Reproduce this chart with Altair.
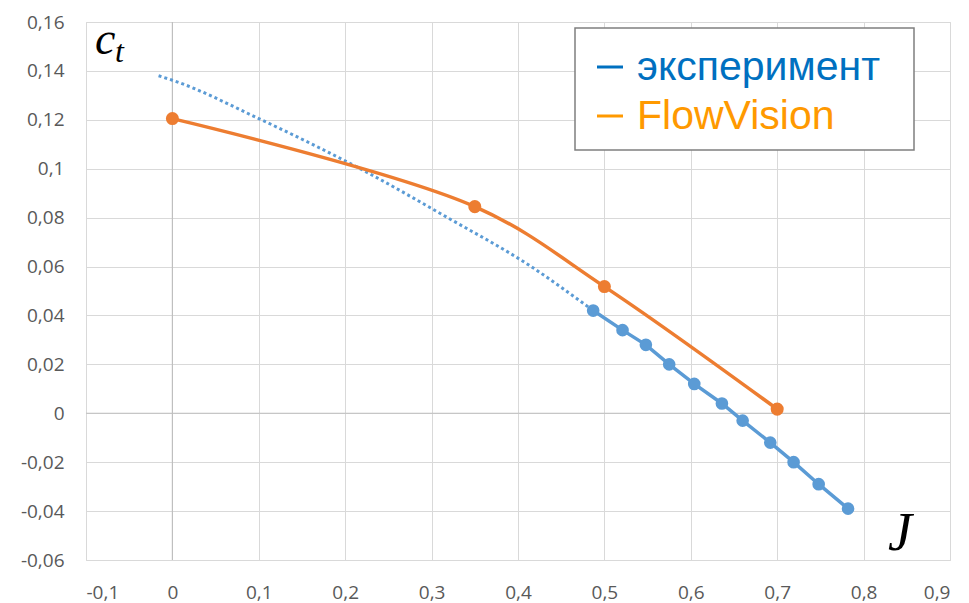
import altair as alt
import pandas as pd

# experiment (blue) points
exp_j = [0.487, 0.521, 0.548, 0.575, 0.604, 0.636, 0.660, 0.692, 0.719, 0.748, 0.782]
exp_ct = [0.042, 0.034, 0.028, 0.020, 0.012, 0.004, -0.003, -0.012, -0.020, -0.029, -0.039]

# dotted trend (blue) extrapolation
trend_j = [-0.016, 0.0, 0.1, 0.228, 0.317, 0.413, 0.487]
trend_ct = [0.138, 0.1362, 0.1205, 0.098, 0.0803, 0.0605, 0.042]

# FlowVision (orange)
fv_j = [0.0, 0.35, 0.5, 0.7]
fv_ct = [0.1205, 0.0845, 0.0518, 0.0017]

x_ticks = [-0.1, 0, 0.1, 0.2, 0.3, 0.4, 0.5, 0.6, 0.7, 0.8, 0.9]
y_ticks = [-0.06, -0.04, -0.02, 0, 0.02, 0.04, 0.06, 0.08, 0.1, 0.12, 0.14, 0.16]

legend_labels = ["эксперимент", "FlowVision"]
legend_colors = ["#0070C0", "#FF9900"]

BLUE = "#5B9BD5"
ORANGE = "#ED7D31"

exp_df = pd.DataFrame({"J": exp_j, "ct": exp_ct})
trend_df = pd.DataFrame({"J": trend_j, "ct": trend_ct})
fv_df = pd.DataFrame({"J": fv_j, "ct": fv_ct})

lab = "replace(toString(datum.value), '.', ',')"
xs = alt.Scale(domain=[-0.1, 0.9], nice=False, zero=False)
ys = alt.Scale(domain=[-0.06, 0.16], nice=False, zero=False)
xax = alt.Axis(values=x_ticks, labelExpr=lab, title=None, domain=False, ticks=False,
               grid=True, gridColor="#d9d9d9", labelFontSize=19, labelColor="#595959",
               labelFont="Open Sans", labelPadding=23)
yax = alt.Axis(values=y_ticks, labelExpr=lab, title=None, domain=False, ticks=False,
               grid=True, gridColor="#d9d9d9", labelFontSize=19, labelColor="#595959",
               labelFont="Open Sans", labelPadding=22)

X = alt.X("J:Q", scale=xs, axis=xax)
Y = alt.Y("ct:Q", scale=ys, axis=yax)

zero_df = pd.DataFrame({"v": [0]})
zx = alt.Chart(zero_df).mark_rule(color="#bfbfbf", strokeWidth=1.2).encode(x=alt.X("v:Q", scale=xs))
zy = alt.Chart(zero_df).mark_rule(color="#bfbfbf", strokeWidth=1.2).encode(y=alt.Y("v:Q", scale=ys))

base_grid = alt.Chart(exp_df).mark_point(opacity=0).encode(x=X, y=Y)

trend = alt.Chart(trend_df).mark_line(color=BLUE, strokeWidth=3, strokeDash=[3, 3],
                                      interpolate="monotone").encode(
    x=alt.X("J:Q", scale=xs), y=alt.Y("ct:Q", scale=ys))

exp_line = alt.Chart(exp_df).mark_line(color=BLUE, strokeWidth=3.5).encode(
    x=alt.X("J:Q", scale=xs), y=alt.Y("ct:Q", scale=ys))
exp_pts = alt.Chart(exp_df).mark_circle(color=BLUE, size=160, opacity=1).encode(
    x=alt.X("J:Q", scale=xs), y=alt.Y("ct:Q", scale=ys))

fv_line = alt.Chart(fv_df).mark_line(color=ORANGE, strokeWidth=3.5,
                                     interpolate="catmull-rom").encode(
    x=alt.X("J:Q", scale=xs), y=alt.Y("ct:Q", scale=ys))
fv_pts = alt.Chart(fv_df).mark_circle(color=ORANGE, size=170, opacity=1).encode(
    x=alt.X("J:Q", scale=xs), y=alt.Y("ct:Q", scale=ys))

# legend box
leg_box = alt.Chart(zero_df).mark_rect(fill="white", stroke="#7f7f7f", strokeWidth=1.5).encode(
    x=alt.value(575 - 86), x2=alt.value(914 - 86), y=alt.value(28 - 22), y2=alt.value(150 - 22))
legend_layers = []
for i, (txt, col) in enumerate(zip(legend_labels, legend_colors)):
    base_y = 80 + 49 * i
    legend_layers.append(
        alt.Chart(zero_df).mark_rule(color=col, strokeWidth=3).encode(
            x=alt.value(597 - 86), x2=alt.value(623 - 86),
            y=alt.value(base_y - 13 - 22)))
    legend_layers.append(
        alt.Chart(zero_df).mark_text(text=txt, color=col, align="left",
                                     baseline="alphabetic", fontSize=41,
                                     font="Liberation Sans").encode(
            x=alt.value(637 - 86), y=alt.value(base_y - 22)))

ct_c = alt.Chart(zero_df).mark_text(text="c", align="left", baseline="alphabetic", fontSize=46,
                                    font="Liberation Serif", fontStyle="italic").encode(
    x=alt.value(95 - 86), y=alt.value(54 - 22))
ct_t = alt.Chart(zero_df).mark_text(text="t", align="left", baseline="alphabetic", fontSize=32,
                                    font="Liberation Serif", fontStyle="italic").encode(
    x=alt.value(115 - 86), y=alt.value(62 - 22))
j_lab = alt.Chart(zero_df).mark_text(text="J", align="left", baseline="alphabetic", fontSize=54,
                                     font="Liberation Serif", fontStyle="italic").encode(
    x=alt.value(888 - 86), y=alt.value(550 - 22))

chart = alt.layer(base_grid, zx, zy, trend, exp_line, fv_line, exp_pts, fv_pts,
                  leg_box, *legend_layers, ct_c, ct_t, j_lab).properties(
    width=864, height=538,
    autosize=alt.AutoSizeParams(type="none"),
    padding={"left": 86, "top": 22, "right": 19, "bottom": 43},
    background="white",
).configure_view(stroke="#d9d9d9")

chart.save("out.html", embed_options={"renderer": "svg", "actions": False})
